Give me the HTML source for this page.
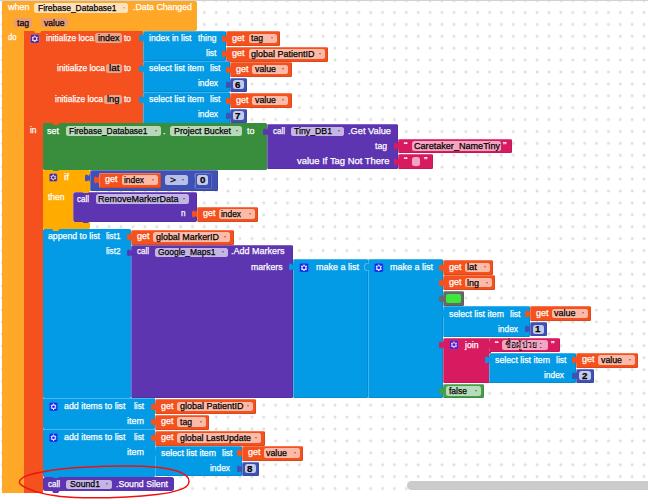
<!DOCTYPE html>
<html><head><meta charset="utf-8"><title>blocks</title>
<style>
html,body{margin:0;padding:0;background:#fff}
#c{position:relative;width:648px;height:500px;overflow:hidden;background:#fff;font-family:"Liberation Sans",sans-serif;font-size:9.6px;line-height:9.6px;color:#fff}
#c div,#c svg,#c span{position:absolute}
#c span{white-space:pre;transform-origin:0 50%;-webkit-text-stroke:0.25px currentColor}
</style></head><body><div id="c">
<svg style="left:0;top:0" width="648" height="492"><defs><pattern id="g" x="-3.74" y="6.55" width="11.885" height="11.9" patternUnits="userSpaceOnUse"><path d="M4.5 6h3M6 4.5v3" stroke="#d4d4d4" stroke-width="1.1"/></pattern></defs><rect width="648" height="492" fill="url(#g)"/></svg>
<div style="left:0;top:0;width:648px;height:1px;background:#d2d2d2"></div>
<div style="left:406.5px;top:481px;width:245px;height:8.5px;background:#cbcbcb;border-radius:4.5px"></div>
<div style="left:2px;top:1px;width:194.50px;height:30.00px;background:#FFA726;border-radius:2px;"></div>
<div style="left:2px;top:1px;width:22.00px;height:491.50px;background:#FFA726;border-radius:0px;border-top-left-radius:3px"></div>
<div style="left:34.2px;top:3px;width:94.30px;height:9.50px;background:#fde2bd;border-radius:2.5px;"></div>
<div style="left:122.5px;top:6.75px;width:0;height:0;border-left:1.9px solid transparent;border-right:1.9px solid transparent;border-top:2.8px solid #c9a36a;background:none"></div>
<div style="left:14px;top:18.2px;width:18.00px;height:9.30px;background:#e89b78;border-radius:2.5px;"></div>
<div style="left:41px;top:18.2px;width:26.50px;height:9.30px;background:#e89b78;border-radius:2.5px;"></div>
<div style="left:24px;top:31px;width:119.50px;height:92.50px;background:#F4511E;border-radius:2px;"></div>
<div style="left:24px;top:31px;width:18.50px;height:461.50px;background:#F4511E;border-radius:0px;"></div>
<svg style="left:30px;top:33.5px" width="9.5" height="9.5" viewBox="0 0 10 10"><rect x="0.3" y="0.3" width="9.4" height="9.4" rx="1.8" fill="#4024b0" stroke="#f08a5a" stroke-width="0.6"/><circle cx="5" cy="5" r="2.1" fill="none" stroke="#fbe3c8" stroke-width="1.15"/><g stroke="#fbe3c8" stroke-width="1.2"><path d="M5 1.5v1.3M5 7.2v1.3M2 3.25l1.1.65M6.9 6.1l1.1.65M2 6.75l1.1-.65M6.9 3.9l1.1-.65"/></g></svg>
<div style="left:95px;top:33px;width:26.50px;height:9.50px;background:#e9a58c;border-radius:2.5px;"></div>
<div style="left:106px;top:63.5px;width:15.50px;height:9.50px;background:#e9a58c;border-radius:2.5px;"></div>
<div style="left:104px;top:94.5px;width:17.50px;height:9.50px;background:#e9a58c;border-radius:2.5px;"></div>
<div style="left:143px;top:30.7px;width:83.00px;height:30.30px;background:#039BE5;border-radius:1.5px;box-shadow:inset 0.8px 0.8px 0 rgba(255,255,255,.30),inset -0.8px -0.8px 0 rgba(0,0,0,.12);"></div>
<svg style="left:138.60px;top:34.20px" width="5.0" height="7.8" viewBox="0 0 8.8 15" preserveAspectRatio="none"><path d="M8.8 0H8c0 10-8-8-8 7.5s8-2.5 8 7.5h.8z" fill="#039BE5"/></svg>
<div style="left:226px;top:31px;width:54.00px;height:15.00px;background:#F4511E;border-radius:1.5px;box-shadow:inset 0.8px 0.8px 0 rgba(255,255,255,.30),inset -0.8px -0.8px 0 rgba(0,0,0,.12);"></div>
<svg style="left:221.60px;top:34.50px" width="5.0" height="7.8" viewBox="0 0 8.8 15" preserveAspectRatio="none"><path d="M8.8 0H8c0 10-8-8-8 7.5s8-2.5 8 7.5h.8z" fill="#F4511E"/></svg>
<div style="left:248.5px;top:33.5px;width:28.00px;height:9.50px;background:#fbbba8;border-radius:2.5px;"></div>
<div style="left:270.5px;top:37.25px;width:0;height:0;border-left:1.9px solid transparent;border-right:1.9px solid transparent;border-top:2.8px solid #c0563a;background:none"></div>
<div style="left:226px;top:46.5px;width:101.50px;height:15.00px;background:#F4511E;border-radius:1.5px;box-shadow:inset 0.8px 0.8px 0 rgba(255,255,255,.30),inset -0.8px -0.8px 0 rgba(0,0,0,.12);"></div>
<svg style="left:221.60px;top:50.00px" width="5.0" height="7.8" viewBox="0 0 8.8 15" preserveAspectRatio="none"><path d="M8.8 0H8c0 10-8-8-8 7.5s8-2.5 8 7.5h.8z" fill="#F4511E"/></svg>
<div style="left:248.5px;top:49.0px;width:76.00px;height:9.50px;background:#fbbba8;border-radius:2.5px;"></div>
<div style="left:318.5px;top:52.75px;width:0;height:0;border-left:1.9px solid transparent;border-right:1.9px solid transparent;border-top:2.8px solid #c0563a;background:none"></div>
<div style="left:143px;top:61px;width:87.00px;height:31.00px;background:#039BE5;border-radius:1.5px;box-shadow:inset 0.8px 0.8px 0 rgba(255,255,255,.30),inset -0.8px -0.8px 0 rgba(0,0,0,.12);"></div>
<svg style="left:138.60px;top:64.50px" width="5.0" height="7.8" viewBox="0 0 8.8 15" preserveAspectRatio="none"><path d="M8.8 0H8c0 10-8-8-8 7.5s8-2.5 8 7.5h.8z" fill="#039BE5"/></svg>
<div style="left:230px;top:62px;width:61.50px;height:15.00px;background:#F4511E;border-radius:1.5px;box-shadow:inset 0.8px 0.8px 0 rgba(255,255,255,.30),inset -0.8px -0.8px 0 rgba(0,0,0,.12);"></div>
<svg style="left:225.60px;top:65.50px" width="5.0" height="7.8" viewBox="0 0 8.8 15" preserveAspectRatio="none"><path d="M8.8 0H8c0 10-8-8-8 7.5s8-2.5 8 7.5h.8z" fill="#F4511E"/></svg>
<div style="left:252px;top:64.5px;width:36.00px;height:9.50px;background:#fbbba8;border-radius:2.5px;"></div>
<div style="left:282px;top:68.25px;width:0;height:0;border-left:1.9px solid transparent;border-right:1.9px solid transparent;border-top:2.8px solid #c0563a;background:none"></div>
<div style="left:230px;top:77.5px;width:16.50px;height:14.00px;background:#3F51B5;border-radius:1.5px;box-shadow:inset 0.8px 0.8px 0 rgba(255,255,255,.30),inset -0.8px -0.8px 0 rgba(0,0,0,.12);"></div>
<svg style="left:225.60px;top:80.50px" width="5.0" height="7.8" viewBox="0 0 8.8 15" preserveAspectRatio="none"><path d="M8.8 0H8c0 10-8-8-8 7.5s8-2.5 8 7.5h.8z" fill="#3F51B5"/></svg>
<div style="left:233px;top:80.0px;width:10.50px;height:9.00px;background:#c5cae9;border-radius:2.5px;"></div>
<div style="left:143px;top:92px;width:87.00px;height:31.50px;background:#039BE5;border-radius:1.5px;box-shadow:inset 0.8px 0.8px 0 rgba(255,255,255,.30),inset -0.8px -0.8px 0 rgba(0,0,0,.12);"></div>
<svg style="left:138.60px;top:95.50px" width="5.0" height="7.8" viewBox="0 0 8.8 15" preserveAspectRatio="none"><path d="M8.8 0H8c0 10-8-8-8 7.5s8-2.5 8 7.5h.8z" fill="#039BE5"/></svg>
<div style="left:230px;top:93px;width:61.50px;height:15.00px;background:#F4511E;border-radius:1.5px;box-shadow:inset 0.8px 0.8px 0 rgba(255,255,255,.30),inset -0.8px -0.8px 0 rgba(0,0,0,.12);"></div>
<svg style="left:225.60px;top:96.50px" width="5.0" height="7.8" viewBox="0 0 8.8 15" preserveAspectRatio="none"><path d="M8.8 0H8c0 10-8-8-8 7.5s8-2.5 8 7.5h.8z" fill="#F4511E"/></svg>
<div style="left:252px;top:95.5px;width:36.00px;height:9.50px;background:#fbbba8;border-radius:2.5px;"></div>
<div style="left:282px;top:99.25px;width:0;height:0;border-left:1.9px solid transparent;border-right:1.9px solid transparent;border-top:2.8px solid #c0563a;background:none"></div>
<div style="left:230px;top:108.5px;width:16.50px;height:14.00px;background:#3F51B5;border-radius:1.5px;box-shadow:inset 0.8px 0.8px 0 rgba(255,255,255,.30),inset -0.8px -0.8px 0 rgba(0,0,0,.12);"></div>
<svg style="left:225.60px;top:111.50px" width="5.0" height="7.8" viewBox="0 0 8.8 15" preserveAspectRatio="none"><path d="M8.8 0H8c0 10-8-8-8 7.5s8-2.5 8 7.5h.8z" fill="#3F51B5"/></svg>
<div style="left:233px;top:111.0px;width:10.50px;height:9.00px;background:#c5cae9;border-radius:2.5px;"></div>
<div style="left:42.5px;top:123px;width:224.50px;height:46.50px;background:#388E3C;border-radius:1.5px;"></div>
<div style="left:65.5px;top:126px;width:95.00px;height:10.00px;background:#b9d8ba;border-radius:2.5px;"></div>
<div style="left:154.5px;top:130.0px;width:0;height:0;border-left:1.9px solid transparent;border-right:1.9px solid transparent;border-top:2.8px solid #4a7a4c;background:none"></div>
<div style="left:170px;top:126px;width:71.50px;height:10.00px;background:#b9d8ba;border-radius:2.5px;"></div>
<div style="left:235.5px;top:130.0px;width:0;height:0;border-left:1.9px solid transparent;border-right:1.9px solid transparent;border-top:2.8px solid #4a7a4c;background:none"></div>
<div style="left:267px;top:124px;width:131.00px;height:44.50px;background:#5E35B1;border-radius:1.5px;box-shadow:inset 0.8px 0.8px 0 rgba(255,255,255,.30),inset -0.8px -0.8px 0 rgba(0,0,0,.12);"></div>
<svg style="left:262.60px;top:127.50px" width="5.0" height="7.8" viewBox="0 0 8.8 15" preserveAspectRatio="none"><path d="M8.8 0H8c0 10-8-8-8 7.5s8-2.5 8 7.5h.8z" fill="#5E35B1"/></svg>
<div style="left:290.5px;top:126.5px;width:53.50px;height:9.00px;background:#c4b5e3;border-radius:2.5px;"></div>
<div style="left:338px;top:130.0px;width:0;height:0;border-left:1.9px solid transparent;border-right:1.9px solid transparent;border-top:2.8px solid #6a54a8;background:none"></div>
<div style="left:398px;top:138.5px;width:114.00px;height:14.50px;background:#D81B60;border-radius:1.5px;box-shadow:inset 0.8px 0.8px 0 rgba(255,255,255,.30),inset -0.8px -0.8px 0 rgba(0,0,0,.12);"></div>
<svg style="left:393.60px;top:142.00px" width="5.0" height="7.8" viewBox="0 0 8.8 15" preserveAspectRatio="none"><path d="M8.8 0H8c0 10-8-8-8 7.5s8-2.5 8 7.5h.8z" fill="#D81B60"/></svg>
<div style="left:411.5px;top:141.0px;width:89.50px;height:9.50px;background:#f2a6c1;border-radius:2.5px;"></div>
<div style="left:398px;top:154px;width:35.00px;height:14.50px;background:#D81B60;border-radius:1.5px;box-shadow:inset 0.8px 0.8px 0 rgba(255,255,255,.30),inset -0.8px -0.8px 0 rgba(0,0,0,.12);"></div>
<svg style="left:393.60px;top:157.50px" width="5.0" height="7.8" viewBox="0 0 8.8 15" preserveAspectRatio="none"><path d="M8.8 0H8c0 10-8-8-8 7.5s8-2.5 8 7.5h.8z" fill="#D81B60"/></svg>
<div style="left:411.5px;top:156.5px;width:8.50px;height:9.50px;background:#f2a6c1;border-radius:2.5px;"></div>
<div style="left:42.5px;top:169.5px;width:47.00px;height:22.00px;background:#FFAB00;border-radius:1.5px;"></div>
<div style="left:42.5px;top:169.5px;width:30.00px;height:59.20px;background:#FFAB00;border-radius:1.5px;"></div>
<div style="left:42.5px;top:222px;width:47.00px;height:6.70px;background:#FFAB00;border-radius:1.5px;"></div>
<svg style="left:49px;top:172.5px" width="8.5" height="9.0" viewBox="0 0 10 10"><rect x="0.3" y="0.3" width="9.4" height="9.4" rx="1.8" fill="#4024b0" stroke="#e0a040" stroke-width="0.6"/><circle cx="5" cy="5" r="2.1" fill="none" stroke="#ffe6b0" stroke-width="1.15"/><g stroke="#ffe6b0" stroke-width="1.2"><path d="M5 1.5v1.3M5 7.2v1.3M2 3.25l1.1.65M6.9 6.1l1.1.65M2 6.75l1.1-.65M6.9 3.9l1.1-.65"/></g></svg>
<div style="left:89.5px;top:169.5px;width:128.00px;height:21.00px;background:#3F51B5;border-radius:1.5px;box-shadow:inset 0.8px 0.8px 0 rgba(255,255,255,.30),inset -0.8px -0.8px 0 rgba(0,0,0,.12);"></div>
<svg style="left:85.10px;top:174.00px" width="5.0" height="7.8" viewBox="0 0 8.8 15" preserveAspectRatio="none"><path d="M8.8 0H8c0 10-8-8-8 7.5s8-2.5 8 7.5h.8z" fill="#3F51B5"/></svg>
<div style="left:98.5px;top:172.5px;width:62.80px;height:15.00px;background:#F4511E;border-radius:1.5px;box-shadow:inset 0.8px 0.8px 0 rgba(255,255,255,.30),inset -0.8px -0.8px 0 rgba(0,0,0,.12);"></div>
<svg style="left:94.10px;top:176.00px" width="5.0" height="7.8" viewBox="0 0 8.8 15" preserveAspectRatio="none"><path d="M8.8 0H8c0 10-8-8-8 7.5s8-2.5 8 7.5h.8z" fill="#F4511E"/></svg>
<div style="left:121.5px;top:175.0px;width:36.00px;height:9.50px;background:#fbbba8;border-radius:2.5px;"></div>
<div style="left:151.5px;top:178.75px;width:0;height:0;border-left:1.9px solid transparent;border-right:1.9px solid transparent;border-top:2.8px solid #c0563a;background:none"></div>
<div style="left:164.5px;top:175px;width:23.00px;height:9.50px;background:#b9c0e8;border-radius:2.5px;"></div>
<div style="left:181.5px;top:178.75px;width:0;height:0;border-left:1.9px solid transparent;border-right:1.9px solid transparent;border-top:2.8px solid #4a5aa8;background:none"></div>
<div style="left:194px;top:172.5px;width:17.50px;height:16.00px;background:#5c6bc0;border-radius:2.5px;"></div>
<div style="left:194.5px;top:173px;width:16.50px;height:15.00px;background:#3F51B5;border-radius:1.5px;box-shadow:inset 0.8px 0.8px 0 rgba(255,255,255,.30),inset -0.8px -0.8px 0 rgba(0,0,0,.12);"></div>
<svg style="left:190.10px;top:177.00px" width="5.0" height="7.8" viewBox="0 0 8.8 15" preserveAspectRatio="none"><path d="M8.8 0H8c0 10-8-8-8 7.5s8-2.5 8 7.5h.8z" fill="#3F51B5"/></svg>
<div style="left:196.5px;top:175px;width:11.50px;height:9.50px;background:#c5cae9;border-radius:2.5px;"></div>
<div style="left:72.5px;top:191.5px;width:124.00px;height:30.00px;background:#5E35B1;border-radius:2px;box-shadow:inset 0.8px 0.8px 0 rgba(255,255,255,.30),inset -0.8px -0.8px 0 rgba(0,0,0,.12);"></div>
<div style="left:95.5px;top:194px;width:93.00px;height:9.50px;background:#c4b5e3;border-radius:2.5px;"></div>
<div style="left:182.5px;top:197.75px;width:0;height:0;border-left:1.9px solid transparent;border-right:1.9px solid transparent;border-top:2.8px solid #6a54a8;background:none"></div>
<div style="left:196.5px;top:206.5px;width:61.50px;height:15.00px;background:#F4511E;border-radius:1.5px;box-shadow:inset 0.8px 0.8px 0 rgba(255,255,255,.30),inset -0.8px -0.8px 0 rgba(0,0,0,.12);"></div>
<svg style="left:192.10px;top:210.00px" width="5.0" height="7.8" viewBox="0 0 8.8 15" preserveAspectRatio="none"><path d="M8.8 0H8c0 10-8-8-8 7.5s8-2.5 8 7.5h.8z" fill="#F4511E"/></svg>
<div style="left:218.5px;top:209.0px;width:36.50px;height:9.50px;background:#fbbba8;border-radius:2.5px;"></div>
<div style="left:249px;top:212.75px;width:0;height:0;border-left:1.9px solid transparent;border-right:1.9px solid transparent;border-top:2.8px solid #c0563a;background:none"></div>
<div style="left:42.5px;top:228.7px;width:88.50px;height:169.30px;background:#039BE5;border-radius:1.5px;"></div>
<div style="left:131px;top:229.5px;width:102.50px;height:15.00px;background:#F4511E;border-radius:1.5px;box-shadow:inset 0.8px 0.8px 0 rgba(255,255,255,.30),inset -0.8px -0.8px 0 rgba(0,0,0,.12);"></div>
<svg style="left:126.60px;top:233.00px" width="5.0" height="7.8" viewBox="0 0 8.8 15" preserveAspectRatio="none"><path d="M8.8 0H8c0 10-8-8-8 7.5s8-2.5 8 7.5h.8z" fill="#F4511E"/></svg>
<div style="left:153px;top:232.0px;width:77.00px;height:9.50px;background:#fbbba8;border-radius:2.5px;"></div>
<div style="left:224px;top:235.75px;width:0;height:0;border-left:1.9px solid transparent;border-right:1.9px solid transparent;border-top:2.8px solid #c0563a;background:none"></div>
<div style="left:131px;top:245px;width:162.00px;height:153.00px;background:#5E35B1;border-radius:1.5px;box-shadow:inset 0.8px 0.8px 0 rgba(255,255,255,.30),inset -0.8px -0.8px 0 rgba(0,0,0,.12);"></div>
<svg style="left:126.60px;top:248.50px" width="5.0" height="7.8" viewBox="0 0 8.8 15" preserveAspectRatio="none"><path d="M8.8 0H8c0 10-8-8-8 7.5s8-2.5 8 7.5h.8z" fill="#5E35B1"/></svg>
<div style="left:154.5px;top:247.5px;width:73.00px;height:9.00px;background:#c4b5e3;border-radius:2.5px;"></div>
<div style="left:221.5px;top:251.0px;width:0;height:0;border-left:1.9px solid transparent;border-right:1.9px solid transparent;border-top:2.8px solid #6a54a8;background:none"></div>
<div style="left:293px;top:259.2px;width:75.30px;height:138.80px;background:#039BE5;border-radius:1.5px;box-shadow:inset 0.8px 0.8px 0 rgba(255,255,255,.30),inset -0.8px -0.8px 0 rgba(0,0,0,.12);"></div>
<svg style="left:288.60px;top:262.70px" width="5.0" height="7.8" viewBox="0 0 8.8 15" preserveAspectRatio="none"><path d="M8.8 0H8c0 10-8-8-8 7.5s8-2.5 8 7.5h.8z" fill="#039BE5"/></svg>
<svg style="left:299px;top:262.5px" width="10" height="9.5" viewBox="0 0 10 10"><rect x="0.3" y="0.3" width="9.4" height="9.4" rx="1.8" fill="#0f28f2" stroke="#3d74f2" stroke-width="0.6"/><circle cx="5" cy="5" r="2.1" fill="none" stroke="#e4f1ff" stroke-width="1.15"/><g stroke="#e4f1ff" stroke-width="1.2"><path d="M5 1.5v1.3M5 7.2v1.3M2 3.25l1.1.65M6.9 6.1l1.1.65M2 6.75l1.1-.65M6.9 3.9l1.1-.65"/></g></svg>
<div style="left:368.3px;top:259.2px;width:74.70px;height:138.80px;background:#039BE5;border-radius:1.5px;box-shadow:inset 0.8px 0.8px 0 rgba(255,255,255,.30),inset -0.8px -0.8px 0 rgba(0,0,0,.12);"></div>
<svg style="left:363.90px;top:262.70px" width="5.0" height="7.8" viewBox="0 0 8.8 15" preserveAspectRatio="none"><path d="M8.8 0H8c0 10-8-8-8 7.5s8-2.5 8 7.5h.8z" fill="#039BE5"/></svg>
<div style="left:363.5px;top:263px;width:5px;height:7.5px;border:0.8px solid #4fb6ec;border-right:none;border-radius:3px 0 0 3px;background:none;box-sizing:border-box"></div>
<svg style="left:374px;top:262.5px" width="9.5" height="9.5" viewBox="0 0 10 10"><rect x="0.3" y="0.3" width="9.4" height="9.4" rx="1.8" fill="#0f28f2" stroke="#3d74f2" stroke-width="0.6"/><circle cx="5" cy="5" r="2.1" fill="none" stroke="#e4f1ff" stroke-width="1.15"/><g stroke="#e4f1ff" stroke-width="1.2"><path d="M5 1.5v1.3M5 7.2v1.3M2 3.25l1.1.65M6.9 6.1l1.1.65M2 6.75l1.1-.65M6.9 3.9l1.1-.65"/></g></svg>
<div style="left:443px;top:260px;width:50.00px;height:15.00px;background:#F4511E;border-radius:1.5px;box-shadow:inset 0.8px 0.8px 0 rgba(255,255,255,.30),inset -0.8px -0.8px 0 rgba(0,0,0,.12);"></div>
<svg style="left:438.60px;top:263.50px" width="5.0" height="7.8" viewBox="0 0 8.8 15" preserveAspectRatio="none"><path d="M8.8 0H8c0 10-8-8-8 7.5s8-2.5 8 7.5h.8z" fill="#F4511E"/></svg>
<div style="left:464.5px;top:262.5px;width:25.50px;height:9.50px;background:#fbbba8;border-radius:2.5px;"></div>
<div style="left:484px;top:266.25px;width:0;height:0;border-left:1.9px solid transparent;border-right:1.9px solid transparent;border-top:2.8px solid #c0563a;background:none"></div>
<div style="left:443px;top:275.3px;width:52.00px;height:15.00px;background:#F4511E;border-radius:1.5px;box-shadow:inset 0.8px 0.8px 0 rgba(255,255,255,.30),inset -0.8px -0.8px 0 rgba(0,0,0,.12);"></div>
<svg style="left:438.60px;top:278.80px" width="5.0" height="7.8" viewBox="0 0 8.8 15" preserveAspectRatio="none"><path d="M8.8 0H8c0 10-8-8-8 7.5s8-2.5 8 7.5h.8z" fill="#F4511E"/></svg>
<div style="left:464.5px;top:277.8px;width:27.50px;height:9.50px;background:#fbbba8;border-radius:2.5px;"></div>
<div style="left:486px;top:281.55px;width:0;height:0;border-left:1.9px solid transparent;border-right:1.9px solid transparent;border-top:2.8px solid #c0563a;background:none"></div>
<div style="left:443px;top:291px;width:21.00px;height:14.50px;background:#686868;border-radius:1.5px;box-shadow:inset 0.8px 0.8px 0 rgba(255,255,255,.30),inset -0.8px -0.8px 0 rgba(0,0,0,.12);"></div>
<svg style="left:438.60px;top:294.50px" width="5.0" height="7.8" viewBox="0 0 8.8 15" preserveAspectRatio="none"><path d="M8.8 0H8c0 10-8-8-8 7.5s8-2.5 8 7.5h.8z" fill="#686868"/></svg>
<div style="left:445.5px;top:293.5px;width:15.50px;height:9.50px;background:#3be83b;border-radius:2px;"></div>
<div style="left:443px;top:306.2px;width:86.50px;height:31.30px;background:#039BE5;border-radius:1.5px;box-shadow:inset 0.8px 0.8px 0 rgba(255,255,255,.30),inset -0.8px -0.8px 0 rgba(0,0,0,.12);"></div>
<svg style="left:438.60px;top:309.70px" width="5.0" height="7.8" viewBox="0 0 8.8 15" preserveAspectRatio="none"><path d="M8.8 0H8c0 10-8-8-8 7.5s8-2.5 8 7.5h.8z" fill="#039BE5"/></svg>
<div style="left:529.5px;top:306px;width:61.80px;height:15.00px;background:#F4511E;border-radius:1.5px;box-shadow:inset 0.8px 0.8px 0 rgba(255,255,255,.30),inset -0.8px -0.8px 0 rgba(0,0,0,.12);"></div>
<svg style="left:525.10px;top:309.50px" width="5.0" height="7.8" viewBox="0 0 8.8 15" preserveAspectRatio="none"><path d="M8.8 0H8c0 10-8-8-8 7.5s8-2.5 8 7.5h.8z" fill="#F4511E"/></svg>
<div style="left:551.5px;top:308.5px;width:36.50px;height:9.50px;background:#fbbba8;border-radius:2.5px;"></div>
<div style="left:582px;top:312.25px;width:0;height:0;border-left:1.9px solid transparent;border-right:1.9px solid transparent;border-top:2.8px solid #c0563a;background:none"></div>
<div style="left:529.5px;top:322px;width:17.50px;height:14.00px;background:#3F51B5;border-radius:1.5px;box-shadow:inset 0.8px 0.8px 0 rgba(255,255,255,.30),inset -0.8px -0.8px 0 rgba(0,0,0,.12);"></div>
<svg style="left:525.10px;top:325.00px" width="5.0" height="7.8" viewBox="0 0 8.8 15" preserveAspectRatio="none"><path d="M8.8 0H8c0 10-8-8-8 7.5s8-2.5 8 7.5h.8z" fill="#3F51B5"/></svg>
<div style="left:532.5px;top:324.5px;width:11.50px;height:9.00px;background:#c5cae9;border-radius:2.5px;"></div>
<div style="left:443px;top:337.5px;width:48.00px;height:45.00px;background:#D81B60;border-radius:1.5px;box-shadow:inset 0.8px 0.8px 0 rgba(255,255,255,.30),inset -0.8px -0.8px 0 rgba(0,0,0,.12);"></div>
<svg style="left:438.60px;top:341.00px" width="5.0" height="7.8" viewBox="0 0 8.8 15" preserveAspectRatio="none"><path d="M8.8 0H8c0 10-8-8-8 7.5s8-2.5 8 7.5h.8z" fill="#D81B60"/></svg>
<svg style="left:448.5px;top:340px" width="10.0" height="9.5" viewBox="0 0 10 10"><rect x="0.3" y="0.3" width="9.4" height="9.4" rx="1.8" fill="#4a1fd0" stroke="#c04090" stroke-width="0.6"/><circle cx="5" cy="5" r="2.1" fill="none" stroke="#f8c0d8" stroke-width="1.15"/><g stroke="#f8c0d8" stroke-width="1.2"><path d="M5 1.5v1.3M5 7.2v1.3M2 3.25l1.1.65M6.9 6.1l1.1.65M2 6.75l1.1-.65M6.9 3.9l1.1-.65"/></g></svg>
<div style="left:489px;top:337.5px;width:71.00px;height:14.50px;background:#D81B60;border-radius:1.5px;box-shadow:inset 0.8px 0.8px 0 rgba(255,255,255,.30),inset -0.8px -0.8px 0 rgba(0,0,0,.12);"></div>
<svg style="left:484.60px;top:341.00px" width="5.0" height="7.8" viewBox="0 0 8.8 15" preserveAspectRatio="none"><path d="M8.8 0H8c0 10-8-8-8 7.5s8-2.5 8 7.5h.8z" fill="#D81B60"/></svg>
<div style="left:501.5px;top:340.0px;width:46.00px;height:9.50px;background:#f2a6c1;border-radius:2.5px;"></div>
<div style="left:489px;top:352.5px;width:87.00px;height:30.00px;background:#039BE5;border-radius:1.5px;box-shadow:inset 0.8px 0.8px 0 rgba(255,255,255,.30),inset -0.8px -0.8px 0 rgba(0,0,0,.12);"></div>
<svg style="left:484.60px;top:356.00px" width="5.0" height="7.8" viewBox="0 0 8.8 15" preserveAspectRatio="none"><path d="M8.8 0H8c0 10-8-8-8 7.5s8-2.5 8 7.5h.8z" fill="#039BE5"/></svg>
<div style="left:576px;top:352.5px;width:62.00px;height:15.00px;background:#F4511E;border-radius:1.5px;box-shadow:inset 0.8px 0.8px 0 rgba(255,255,255,.30),inset -0.8px -0.8px 0 rgba(0,0,0,.12);"></div>
<svg style="left:571.60px;top:356.00px" width="5.0" height="7.8" viewBox="0 0 8.8 15" preserveAspectRatio="none"><path d="M8.8 0H8c0 10-8-8-8 7.5s8-2.5 8 7.5h.8z" fill="#F4511E"/></svg>
<div style="left:598px;top:355.0px;width:36.50px;height:9.50px;background:#fbbba8;border-radius:2.5px;"></div>
<div style="left:628.5px;top:358.75px;width:0;height:0;border-left:1.9px solid transparent;border-right:1.9px solid transparent;border-top:2.8px solid #c0563a;background:none"></div>
<div style="left:576px;top:368.5px;width:17.50px;height:14.00px;background:#3F51B5;border-radius:1.5px;box-shadow:inset 0.8px 0.8px 0 rgba(255,255,255,.30),inset -0.8px -0.8px 0 rgba(0,0,0,.12);"></div>
<svg style="left:571.60px;top:371.50px" width="5.0" height="7.8" viewBox="0 0 8.8 15" preserveAspectRatio="none"><path d="M8.8 0H8c0 10-8-8-8 7.5s8-2.5 8 7.5h.8z" fill="#3F51B5"/></svg>
<div style="left:579px;top:371.0px;width:11.50px;height:9.00px;background:#c5cae9;border-radius:2.5px;"></div>
<div style="left:443px;top:383.5px;width:41.00px;height:14.50px;background:#43A047;border-radius:1.5px;box-shadow:inset 0.8px 0.8px 0 rgba(255,255,255,.30),inset -0.8px -0.8px 0 rgba(0,0,0,.12);"></div>
<svg style="left:438.60px;top:387.00px" width="5.0" height="7.8" viewBox="0 0 8.8 15" preserveAspectRatio="none"><path d="M8.8 0H8c0 10-8-8-8 7.5s8-2.5 8 7.5h.8z" fill="#43A047"/></svg>
<div style="left:446px;top:386px;width:34.50px;height:9.50px;background:#b7dcb9;border-radius:2.5px;"></div>
<div style="left:474.5px;top:389.75px;width:0;height:0;border-left:1.9px solid transparent;border-right:1.9px solid transparent;border-top:2.8px solid #3f8a43;background:none"></div>
<div style="left:42.5px;top:398px;width:112.50px;height:31.00px;background:#039BE5;border-radius:1.5px;"></div>
<div style="left:42.5px;top:398px;width:112.50px;height:0.80px;background:#4db8ee;border-radius:0px;"></div>
<svg style="left:49px;top:401.5px" width="9" height="9.5" viewBox="0 0 10 10"><rect x="0.3" y="0.3" width="9.4" height="9.4" rx="1.8" fill="#0f28f2" stroke="#3d74f2" stroke-width="0.6"/><circle cx="5" cy="5" r="2.1" fill="none" stroke="#e4f1ff" stroke-width="1.15"/><g stroke="#e4f1ff" stroke-width="1.2"><path d="M5 1.5v1.3M5 7.2v1.3M2 3.25l1.1.65M6.9 6.1l1.1.65M2 6.75l1.1-.65M6.9 3.9l1.1-.65"/></g></svg>
<div style="left:42.5px;top:429px;width:112.50px;height:47.50px;background:#039BE5;border-radius:1.5px;"></div>
<div style="left:42.5px;top:429px;width:112.50px;height:0.80px;background:#4db8ee;border-radius:0px;"></div>
<svg style="left:49px;top:432.5px" width="9" height="9.5" viewBox="0 0 10 10"><rect x="0.3" y="0.3" width="9.4" height="9.4" rx="1.8" fill="#0f28f2" stroke="#3d74f2" stroke-width="0.6"/><circle cx="5" cy="5" r="2.1" fill="none" stroke="#e4f1ff" stroke-width="1.15"/><g stroke="#e4f1ff" stroke-width="1.2"><path d="M5 1.5v1.3M5 7.2v1.3M2 3.25l1.1.65M6.9 6.1l1.1.65M2 6.75l1.1-.65M6.9 3.9l1.1-.65"/></g></svg>
<div style="left:155px;top:399px;width:101.00px;height:15.00px;background:#F4511E;border-radius:1.5px;box-shadow:inset 0.8px 0.8px 0 rgba(255,255,255,.30),inset -0.8px -0.8px 0 rgba(0,0,0,.12);"></div>
<svg style="left:150.60px;top:402.50px" width="5.0" height="7.8" viewBox="0 0 8.8 15" preserveAspectRatio="none"><path d="M8.8 0H8c0 10-8-8-8 7.5s8-2.5 8 7.5h.8z" fill="#F4511E"/></svg>
<div style="left:177px;top:401.5px;width:75.50px;height:9.50px;background:#fbbba8;border-radius:2.5px;"></div>
<div style="left:246.5px;top:405.25px;width:0;height:0;border-left:1.9px solid transparent;border-right:1.9px solid transparent;border-top:2.8px solid #c0563a;background:none"></div>
<div style="left:155px;top:414.5px;width:53.50px;height:15.00px;background:#F4511E;border-radius:1.5px;box-shadow:inset 0.8px 0.8px 0 rgba(255,255,255,.30),inset -0.8px -0.8px 0 rgba(0,0,0,.12);"></div>
<svg style="left:150.60px;top:418.00px" width="5.0" height="7.8" viewBox="0 0 8.8 15" preserveAspectRatio="none"><path d="M8.8 0H8c0 10-8-8-8 7.5s8-2.5 8 7.5h.8z" fill="#F4511E"/></svg>
<div style="left:177px;top:417.0px;width:28.50px;height:9.50px;background:#fbbba8;border-radius:2.5px;"></div>
<div style="left:199.5px;top:420.75px;width:0;height:0;border-left:1.9px solid transparent;border-right:1.9px solid transparent;border-top:2.8px solid #c0563a;background:none"></div>
<div style="left:155px;top:430.5px;width:109.50px;height:15.00px;background:#F4511E;border-radius:1.5px;box-shadow:inset 0.8px 0.8px 0 rgba(255,255,255,.30),inset -0.8px -0.8px 0 rgba(0,0,0,.12);"></div>
<svg style="left:150.60px;top:434.00px" width="5.0" height="7.8" viewBox="0 0 8.8 15" preserveAspectRatio="none"><path d="M8.8 0H8c0 10-8-8-8 7.5s8-2.5 8 7.5h.8z" fill="#F4511E"/></svg>
<div style="left:177px;top:433.0px;width:84.00px;height:9.50px;background:#fbbba8;border-radius:2.5px;"></div>
<div style="left:255px;top:436.75px;width:0;height:0;border-left:1.9px solid transparent;border-right:1.9px solid transparent;border-top:2.8px solid #c0563a;background:none"></div>
<div style="left:155px;top:445.5px;width:86.50px;height:30.00px;background:#039BE5;border-radius:1.5px;box-shadow:inset 0.8px 0.8px 0 rgba(255,255,255,.30),inset -0.8px -0.8px 0 rgba(0,0,0,.12);"></div>
<svg style="left:150.60px;top:449.00px" width="5.0" height="7.8" viewBox="0 0 8.8 15" preserveAspectRatio="none"><path d="M8.8 0H8c0 10-8-8-8 7.5s8-2.5 8 7.5h.8z" fill="#039BE5"/></svg>
<div style="left:241.5px;top:445.5px;width:61.50px;height:15.00px;background:#F4511E;border-radius:1.5px;box-shadow:inset 0.8px 0.8px 0 rgba(255,255,255,.30),inset -0.8px -0.8px 0 rgba(0,0,0,.12);"></div>
<svg style="left:237.10px;top:449.00px" width="5.0" height="7.8" viewBox="0 0 8.8 15" preserveAspectRatio="none"><path d="M8.8 0H8c0 10-8-8-8 7.5s8-2.5 8 7.5h.8z" fill="#F4511E"/></svg>
<div style="left:263.5px;top:448.0px;width:36.00px;height:9.50px;background:#fbbba8;border-radius:2.5px;"></div>
<div style="left:293.5px;top:451.75px;width:0;height:0;border-left:1.9px solid transparent;border-right:1.9px solid transparent;border-top:2.8px solid #c0563a;background:none"></div>
<div style="left:241.5px;top:461.5px;width:17.50px;height:14.00px;background:#3F51B5;border-radius:1.5px;box-shadow:inset 0.8px 0.8px 0 rgba(255,255,255,.30),inset -0.8px -0.8px 0 rgba(0,0,0,.12);"></div>
<svg style="left:237.10px;top:464.50px" width="5.0" height="7.8" viewBox="0 0 8.8 15" preserveAspectRatio="none"><path d="M8.8 0H8c0 10-8-8-8 7.5s8-2.5 8 7.5h.8z" fill="#3F51B5"/></svg>
<div style="left:244.5px;top:464.0px;width:11.50px;height:9.00px;background:#c5cae9;border-radius:2.5px;"></div>
<div style="left:42.5px;top:476.5px;width:131.50px;height:14.50px;background:#5E35B1;border-radius:2.5px;"></div>
<div style="left:66px;top:479.5px;width:46.00px;height:9.00px;background:#c4b5e3;border-radius:2.5px;"></div>
<div style="left:106px;top:483.0px;width:0;height:0;border-left:1.9px solid transparent;border-right:1.9px solid transparent;border-top:2.8px solid #6a54a8;background:none"></div>
<svg style="left:33.50px;top:30.80px" width="7.5" height="2.2" viewBox="0 0 15 4" preserveAspectRatio="none"><path d="M0 0l3 4h9l3-4z" fill="#FFA726"/></svg>
<svg style="left:52.00px;top:123.00px" width="7.5" height="2.2" viewBox="0 0 15 4" preserveAspectRatio="none"><path d="M0 0l3 4h9l3-4z" fill="#F4511E"/></svg>
<svg style="left:52.00px;top:169.30px" width="7.5" height="2.2" viewBox="0 0 15 4" preserveAspectRatio="none"><path d="M0 0l3 4h9l3-4z" fill="#388E3C"/></svg>
<svg style="left:82.00px;top:191.30px" width="7.5" height="2.2" viewBox="0 0 15 4" preserveAspectRatio="none"><path d="M0 0l3 4h9l3-4z" fill="#FFAB00"/></svg>
<svg style="left:82.00px;top:221.30px" width="7.5" height="2.2" viewBox="0 0 15 4" preserveAspectRatio="none"><path d="M0 0l3 4h9l3-4z" fill="#5E35B1"/></svg>
<svg style="left:52.00px;top:228.50px" width="7.5" height="2.2" viewBox="0 0 15 4" preserveAspectRatio="none"><path d="M0 0l3 4h9l3-4z" fill="#FFAB00"/></svg>
<svg style="left:52.00px;top:476.30px" width="7.5" height="2.2" viewBox="0 0 15 4" preserveAspectRatio="none"><path d="M0 0l3 4h9l3-4z" fill="#039BE5"/></svg>
<svg style="left:52.00px;top:490.80px" width="7.5" height="2.2" viewBox="0 0 15 4" preserveAspectRatio="none"><path d="M0 0l3 4h9l3-4z" fill="#5E35B1"/></svg>
<span style="left:7.70px;top:2.47px;transform:scaleX(0.9373)">when</span>
<span style="left:38.00px;top:2.92px;color:#000;transform:scaleX(0.8812)">Firebase_Database1</span>
<span style="left:132.50px;top:2.47px;transform:scaleX(0.9141)">.Data Changed</span>
<span style="left:17.00px;top:18.02px;color:#000;transform:scaleX(0.8993)">tag</span>
<span style="left:44.00px;top:18.02px;color:#000;transform:scaleX(0.8937)">value</span>
<span style="left:7.50px;top:32.47px;transform:scaleX(0.7965)">do</span>
<span style="left:45.50px;top:32.97px;transform:scaleX(0.8823)">initialize loca</span>
<span style="left:97.50px;top:32.92px;color:#000;transform:scaleX(0.9373)">index</span>
<span style="left:124.00px;top:32.97px;transform:scaleX(0.8733)">to</span>
<span style="left:56.50px;top:63.47px;transform:scaleX(0.8823)">initialize loca</span>
<span style="left:108.50px;top:63.42px;color:#000;transform:scaleX(1.0354)">lat</span>
<span style="left:124.00px;top:63.47px;transform:scaleX(0.8733)">to</span>
<span style="left:54.50px;top:94.47px;transform:scaleX(0.8823)">initialize loca</span>
<span style="left:106.50px;top:94.42px;color:#000;transform:scaleX(0.9756)">lng</span>
<span style="left:124.00px;top:94.47px;transform:scaleX(0.8733)">to</span>
<span style="left:29.50px;top:124.97px;transform:scaleX(0.8703)">in</span>
<span style="left:149.00px;top:32.97px;transform:scaleX(0.8953)">index in list</span>
<span style="left:198.00px;top:32.97px;transform:scaleX(0.8889)">thing</span>
<span style="left:205.50px;top:48.47px;transform:scaleX(0.8948)">list</span>
<span style="left:232.00px;top:32.97px;transform:scaleX(0.9368)">get</span>
<span style="left:251.00px;top:33.42px;color:#000;transform:scaleX(0.8993)">tag</span>
<span style="left:232.00px;top:48.47px;transform:scaleX(0.9368)">get</span>
<span style="left:251.00px;top:48.92px;color:#000;transform:scaleX(0.9375)">global PatientID</span>
<span style="left:149.00px;top:63.47px;transform:scaleX(0.9129)">select list item</span>
<span style="left:210.00px;top:63.47px;transform:scaleX(0.8948)">list</span>
<span style="left:198.00px;top:78.47px;transform:scaleX(0.8719)">index</span>
<span style="left:236.00px;top:63.97px;transform:scaleX(0.9368)">get</span>
<span style="left:254.50px;top:64.42px;color:#000;transform:scaleX(0.9155)">value</span>
<span style="left:235.45px;top:79.77px;color:#000;font-weight:700;transform:scaleX(1.0105)">6</span>
<span style="left:149.00px;top:94.47px;transform:scaleX(0.9129)">select list item</span>
<span style="left:210.00px;top:94.47px;transform:scaleX(0.8948)">list</span>
<span style="left:198.00px;top:109.47px;transform:scaleX(0.8719)">index</span>
<span style="left:236.00px;top:94.97px;transform:scaleX(0.9368)">get</span>
<span style="left:254.50px;top:95.42px;color:#000;transform:scaleX(0.9155)">value</span>
<span style="left:235.45px;top:110.77px;color:#000;font-weight:700;transform:scaleX(1.0105)">7</span>
<span style="left:47.00px;top:125.97px;transform:scaleX(0.9366)">set</span>
<span style="left:69.00px;top:126.17px;color:#000;transform:scaleX(0.8812)">Firebase_Database1</span>
<span style="left:163.00px;top:125.97px;transform:scaleX(0.9357)">.</span>
<span style="left:173.50px;top:126.17px;color:#000;transform:scaleX(0.9214)">Project Bucket</span>
<span style="left:247.00px;top:125.97px;transform:scaleX(0.9357)">to</span>
<span style="left:272.50px;top:125.97px;transform:scaleX(0.8330)">call</span>
<span style="left:294.00px;top:126.17px;color:#000;transform:scaleX(0.9095)">Tiny_DB1</span>
<span style="left:347.50px;top:125.97px;transform:scaleX(0.9636)">.Get Value</span>
<span style="left:375.00px;top:140.97px;transform:scaleX(0.8993)">tag</span>
<span style="left:296.50px;top:155.97px;transform:scaleX(0.9836)">value If Tag Not There</span>
<span style="left:404.00px;top:139.87px;transform:scaleX(1.0927)">“</span>
<span style="left:503.00px;top:139.87px;transform:scaleX(1.0927)">”</span>
<span style="left:414.00px;top:140.97px;color:#000;transform:scaleX(0.9468)">Caretaker_NameTiny</span>
<span style="left:404.00px;top:155.37px;transform:scaleX(1.0927)">“</span>
<span style="left:424.00px;top:155.37px;transform:scaleX(1.0927)">”</span>
<span style="left:63.50px;top:171.97px;transform:scaleX(1.0423)">if</span>
<span style="left:47.50px;top:192.47px;transform:scaleX(0.8829)">then</span>
<span style="left:104.50px;top:174.47px;transform:scaleX(0.9368)">get</span>
<span style="left:124.00px;top:174.92px;color:#000;transform:scaleX(0.8719)">index</span>
<span style="left:170.00px;top:174.92px;color:#000;transform:scaleX(1.0696)">></span>
<span style="left:199.60px;top:175.17px;color:#000;font-weight:700;transform:scaleX(1.0105)">0</span>
<span style="left:77.00px;top:193.97px;transform:scaleX(0.8330)">call</span>
<span style="left:98.00px;top:193.92px;color:#000;transform:scaleX(0.9378)">RemoveMarkerData</span>
<span style="left:180.50px;top:208.47px;transform:scaleX(0.8421)">n</span>
<span style="left:202.50px;top:208.47px;transform:scaleX(0.9368)">get</span>
<span style="left:221.00px;top:208.92px;color:#000;transform:scaleX(0.8719)">index</span>
<span style="left:47.50px;top:231.47px;transform:scaleX(0.9110)">append to list</span>
<span style="left:106.00px;top:231.47px;transform:scaleX(0.8498)">list1</span>
<span style="left:106.00px;top:245.97px;transform:scaleX(0.8498)">list2</span>
<span style="left:137.00px;top:231.47px;transform:scaleX(0.9368)">get</span>
<span style="left:155.50px;top:231.92px;color:#000;transform:scaleX(0.9303)">global MarkerID</span>
<span style="left:136.50px;top:246.47px;transform:scaleX(0.8330)">call</span>
<span style="left:158.00px;top:247.17px;color:#000;transform:scaleX(0.8836)">Google_Maps1</span>
<span style="left:230.50px;top:246.47px;transform:scaleX(0.9376)">.Add Markers</span>
<span style="left:250.50px;top:261.97px;transform:scaleX(0.9089)">markers</span>
<span style="left:315.50px;top:261.97px;transform:scaleX(0.9376)">make a list</span>
<span style="left:390.00px;top:261.97px;transform:scaleX(0.9376)">make a list</span>
<span style="left:449.00px;top:261.97px;transform:scaleX(0.9368)">get</span>
<span style="left:467.00px;top:262.42px;color:#000;transform:scaleX(0.9861)">lat</span>
<span style="left:449.00px;top:277.27px;transform:scaleX(0.9368)">get</span>
<span style="left:467.00px;top:277.72px;color:#000;transform:scaleX(0.9366)">lng</span>
<span style="left:449.00px;top:308.67px;transform:scaleX(0.9129)">select list item</span>
<span style="left:509.50px;top:308.67px;transform:scaleX(0.8948)">list</span>
<span style="left:497.50px;top:323.67px;transform:scaleX(0.8719)">index</span>
<span style="left:535.50px;top:307.97px;transform:scaleX(0.9368)">get</span>
<span style="left:554.00px;top:308.42px;color:#000;transform:scaleX(0.9373)">value</span>
<span style="left:535.45px;top:324.27px;color:#000;font-weight:700;transform:scaleX(1.0105)">1</span>
<span style="left:465.00px;top:339.97px;transform:scaleX(0.9038)">join</span>
<span style="left:495.00px;top:338.87px;transform:scaleX(1.0927)">“</span>
<span style="left:551.00px;top:338.87px;transform:scaleX(1.0927)">”</span>
<span style="left:495.00px;top:354.97px;transform:scaleX(0.9129)">select list item</span>
<span style="left:556.00px;top:354.97px;transform:scaleX(0.8948)">list</span>
<span style="left:544.00px;top:369.97px;transform:scaleX(0.8719)">index</span>
<span style="left:582.00px;top:354.47px;transform:scaleX(0.9368)">get</span>
<span style="left:600.50px;top:354.92px;color:#000;transform:scaleX(0.9155)">value</span>
<span style="left:581.95px;top:370.77px;color:#000;font-weight:700;transform:scaleX(1.0105)">2</span>
<span style="left:449.00px;top:385.92px;color:#000;transform:scaleX(0.8882)">false</span>
<span style="left:64.00px;top:400.97px;transform:scaleX(0.9226)">add items to list</span>
<span style="left:134.00px;top:400.97px;transform:scaleX(0.8522)">list</span>
<span style="left:127.00px;top:416.47px;transform:scaleX(0.9379)">item</span>
<span style="left:64.00px;top:431.97px;transform:scaleX(0.9226)">add items to list</span>
<span style="left:134.00px;top:431.97px;transform:scaleX(0.8522)">list</span>
<span style="left:127.00px;top:447.47px;transform:scaleX(0.9379)">item</span>
<span style="left:161.00px;top:400.97px;transform:scaleX(0.9368)">get</span>
<span style="left:179.50px;top:401.42px;color:#000;transform:scaleX(0.9375)">global PatientID</span>
<span style="left:161.00px;top:416.47px;transform:scaleX(0.9368)">get</span>
<span style="left:179.50px;top:416.92px;color:#000;transform:scaleX(0.8993)">tag</span>
<span style="left:161.00px;top:432.47px;transform:scaleX(0.9368)">get</span>
<span style="left:179.50px;top:432.92px;color:#000;transform:scaleX(0.9180)">global LastUpdate</span>
<span style="left:161.00px;top:447.97px;transform:scaleX(0.9129)">select list item</span>
<span style="left:221.50px;top:447.97px;transform:scaleX(0.8948)">list</span>
<span style="left:209.50px;top:462.97px;transform:scaleX(0.8719)">index</span>
<span style="left:247.50px;top:447.47px;transform:scaleX(0.9368)">get</span>
<span style="left:266.00px;top:447.92px;color:#000;transform:scaleX(0.9155)">value</span>
<span style="left:247.45px;top:463.77px;color:#000;font-weight:700;transform:scaleX(1.0105)">8</span>
<span style="left:47.50px;top:478.97px;transform:scaleX(0.8330)">call</span>
<span style="left:69.50px;top:479.17px;color:#000;transform:scaleX(0.9069)">Sound1</span>
<span style="left:116.00px;top:478.97px;transform:scaleX(0.9110)">.Sound Silent</span>
<svg style="left:0;top:0" width="648" height="500"><text x="505.4" y="348" font-size="9.5" fill="#000" textLength="36.5" lengthAdjust="spacingAndGlyphs" style="font-family:'Liberation Sans',sans-serif">ชื่อผู้ป่วย :</text></svg>
<svg style="left:0;top:455px" width="220" height="45" viewBox="0 455 220 45"><path d="M19.4 482 C 20 477, 30 474, 42 472 C 55 469.5, 70 468, 83 467.3 C 100 466.3, 115 466, 127 466 C 140 466, 150 466.6, 156.6 467.3 C 165 468.3, 172 469.5, 177 471 C 185 473.5, 189 477, 189 481.4 C 189 485, 186 487.5, 180 489.6 C 174 491.8, 166 493.5, 156.6 494.6 C 147 495.9, 137 496.7, 127 497 C 112 497.7, 97 498, 83 497.8 C 72 497.6, 62 496.8, 54 495.5 C 44 494, 36 492, 30.5 489.6 C 23 486.8, 19.2 484.5, 19.4 482 Z" fill="none" stroke="#f01010" stroke-width="1.5"/></svg>
</div></body></html>
